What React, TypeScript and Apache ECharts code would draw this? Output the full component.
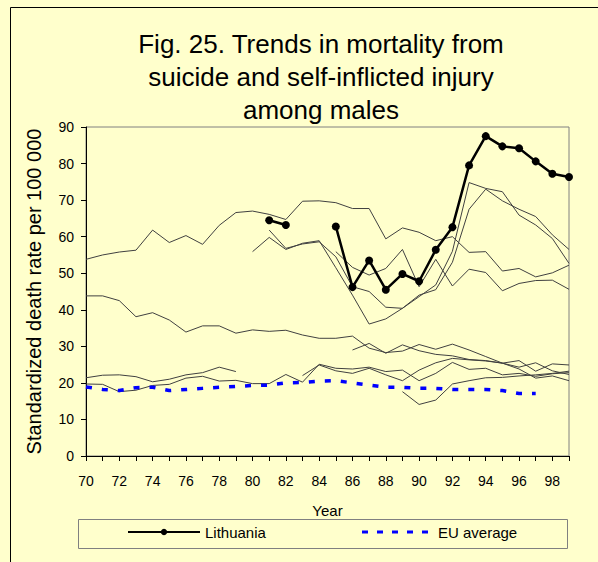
import React, { useEffect, useRef } from "react";
import * as echarts from "echarts";

const years = Array.from({ length: 30 }, (_, i) => String(70 + i));

const lithuania = [null, null, null, null, null, null, null, null, null, null, null, 64.5, 63.2, null, null, 62.8, 46.2, 53.5, 45.5, 49.8, 47.8, 56.4, 62.6, 79.5, 87.5, 84.7, 84.2, 80.6, 77.2, 76.3];
const euAverage = [18.9, 18.2, 17.9, 18.7, 18.8, 17.9, 18.2, 18.5, 18.8, 19.0, 19.3, 19.4, 20.0, 20.1, 20.5, 20.6, 20.0, 19.4, 18.8, 18.8, 18.5, 18.5, 18.2, 18.2, 18.2, 17.9, 17.1, 17.1, null, null];

const other1 = [53.8, 55.0, 55.8, 56.3, 61.8, 58.4, 60.3, 57.9, 63.1, 66.6, 67.0, 66.1, 64.7, 69.7, 69.8, 69.3, 67.7, 67.7, 59.4, 62.4, 61.2, 58.9, 60.0, 55.7, 55.9, 50.6, 51.3, 49.0, 50.1, 52.2];
const other2 = [null, null, null, null, null, null, null, null, null, null, 55.9, 59.8, 56.5, 58.2, 58.9, 51.5, 44.0, 36.1, 37.5, 40.4, 44.0, 45.5, 53.0, 67.5, 73.0, 69.8, 67.5, 65.5, 60.5, 56.5];
const other3 = [null, null, null, null, null, null, null, null, null, null, null, 61.8, 56.8, 58.0, 58.6, 54.5, 46.3, 45.0, 40.7, 40.4, 43.6, 46.8, 56.0, 74.8, 73.2, 72.3, 65.9, 63.2, 59.5, 52.7];
const other4 = [null, null, null, null, null, null, null, null, null, null, null, null, null, null, null, 55.9, 51.6, 49.5, 51.3, 56.5, 46.3, 53.8, 46.5, 51.1, 50.2, 45.2, 47.2, 48.0, 48.1, 45.6];
const other5 = [43.8, 43.8, 42.5, 38.1, 39.2, 37.2, 33.9, 35.6, 35.6, 33.6, 34.5, 34.1, 34.4, 33.1, 32.2, 32.2, 32.8, 29.5, 28.3, 28.7, 30.5, 29.2, 30.6, 29.0, 27.2, 25.4, 23.8, 21.3, 21.9, 20.6];
const other6 = [null, null, null, null, null, null, null, null, null, null, null, null, null, null, null, null, 29.0, 30.8, 28.1, 30.4, 28.8, 27.8, 27.4, 26.4, 26.1, 25.4, 24.3, 25.5, 23.3, 22.3];
const other7 = [21.4, 22.1, 22.2, 21.7, 20.3, 21.0, 22.2, 22.8, 24.3, 23.1, null, null, null, null, null, null, null, null, null, null, null, null, null, null, null, null, null, null, null, null];
const other8 = [19.7, 19.6, 17.6, 18.0, 19.3, 19.6, 21.3, 21.8, 20.5, 20.7, 19.8, 19.8, 22.3, 20.2, 25.1, 24.0, 23.8, 24.3, 23.1, 23.5, 20.6, 22.6, 25.6, 23.7, 24.0, 22.2, 22.6, 21.8, 22.5, 22.8];
const other9 = [null, null, null, null, null, null, null, null, null, null, null, null, null, 22.0, 24.9, 23.3, 22.6, 24.0, 22.2, 20.6, 23.5, 25.5, 26.7, 26.3, 26.0, 25.4, 26.1, 23.2, 25.2, 24.9];
const other10 = [null, null, null, null, null, null, null, null, null, null, null, null, null, null, null, null, null, null, null, 17.6, 14.1, 15.3, 19.7, 20.6, 21.4, 21.5, 21.9, 22.2, 22.6, 23.2];

const others = [other1, other2, other3, other4, other5, other6, other7, other8, other9, other10];

const FONT = "Liberation Sans, Arial, sans-serif";
const BG = "#FFFFCC";
const DASH_ICON = "path://M0 0H6V3H0Z M15 0H21V3H15Z M30 0H36V3H30Z M45 0H51V3H45Z M60 0H66V3H60Z";

export default function App() {
  const ref = useRef<HTMLDivElement>(null);
  useEffect(() => {
    document.body.style.margin = "0";
    const chart = echarts.init(ref.current!, undefined, { renderer: "svg" });
    const otherSeries = others.map((d, i) => ({
      name: "Country " + (i + 1),
      type: "line",
      data: d,
      symbol: "none",
      connectNulls: false,
      lineStyle: { color: "#404040", width: 1 },
      itemStyle: { color: "#404040" },
      z: 2,
    }));
    chart.setOption({
      animation: false,
      backgroundColor: BG,
      textStyle: { fontFamily: FONT },
      title: {
        text: "Fig. 25. Trends in mortality from\nsuicide and self-inflicted injury\namong males",
        left: 316,
        top: 22,
        textAlign: "center",
        textStyle: { fontFamily: FONT, fontSize: 26, fontWeight: "normal", lineHeight: 33, color: "#000" },
      },
      grid: {
        left: 86,
        right: 29,
        top: 127,
        bottom: 106,
        show: true,
        borderColor: "#808080",
        borderWidth: 1,
        backgroundColor: BG,
      },
      legend: [
        {
          data: ["Lithuania"],
          left: 127,
          top: 523,
          padding: 0,
          itemWidth: 72,
          itemHeight: 8,
          itemGap: 0,
          textStyle: { fontFamily: FONT, fontSize: 15, lineHeight: 18, color: "#000" },
        },
        {
          data: [{ name: "EU average", icon: DASH_ICON, itemStyle: { color: "#0000FF" } }],
          left: 362,
          top: 523,
          padding: 0,
          itemWidth: 66,
          itemHeight: 3,
          textStyle: { fontFamily: FONT, fontSize: 15, lineHeight: 18, color: "#000", padding: [0, 0, 0, 5] },
        },
      ],
      xAxis: {
        type: "category",
        data: years,
        boundaryGap: false,
        name: "Year",
        nameLocation: "middle",
        nameGap: 47,
        nameTextStyle: { fontFamily: FONT, fontSize: 15, color: "#000" },
        axisLine: { lineStyle: { color: "#000", width: 1 } },
        axisTick: { interval: 0, length: 5, lineStyle: { color: "#000" } },
        axisLabel: { interval: 1, fontFamily: FONT, fontSize: 14, color: "#000", margin: 18 },
        splitLine: { show: false },
      },
      yAxis: {
        type: "value",
        min: 0,
        max: 90,
        interval: 10,
        name: "Standardized death rate per 100 000",
        nameLocation: "middle",
        nameGap: 42,
        nameTextStyle: { fontFamily: FONT, fontSize: 20, color: "#000" },
        axisLine: { show: true, lineStyle: { color: "#000", width: 1 } },
        axisTick: { show: true, length: 5, lineStyle: { color: "#000" } },
        axisLabel: { fontFamily: FONT, fontSize: 14, color: "#000", margin: 12 },
        splitLine: { show: false },
      },
      graphic: [
        {
          type: "rect",
          shape: { x: 10.5, y: 7.5, width: 700, height: 700 },
          style: { fill: "none", stroke: "#000", lineWidth: 1 },
          silent: true,
          z: 100,
        },
        {
          type: "rect",
          shape: { x: 78.5, y: 519.5, width: 489, height: 29 },
          style: { fill: "none", stroke: "#808080", lineWidth: 1 },
          silent: true,
        },
      ],
      series: [
        ...otherSeries,
        {
          name: "EU average",
          type: "line",
          data: euAverage,
          symbol: "none",
          lineStyle: { color: "#0000FF", width: 3.5, type: [6, 10] },
          itemStyle: { color: "#0000FF" },
          z: 3,
        },
        {
          name: "Lithuania",
          type: "line",
          data: lithuania,
          symbol: "circle",
          symbolSize: 8,
          showSymbol: true,
          lineStyle: { color: "#000", width: 2.5 },
          itemStyle: { color: "#000" },
          z: 4,
        },
      ],
    });
    return () => chart.dispose();
  }, []);
  return <div ref={ref} style={{ width: 598, height: 562 }} />;
}
